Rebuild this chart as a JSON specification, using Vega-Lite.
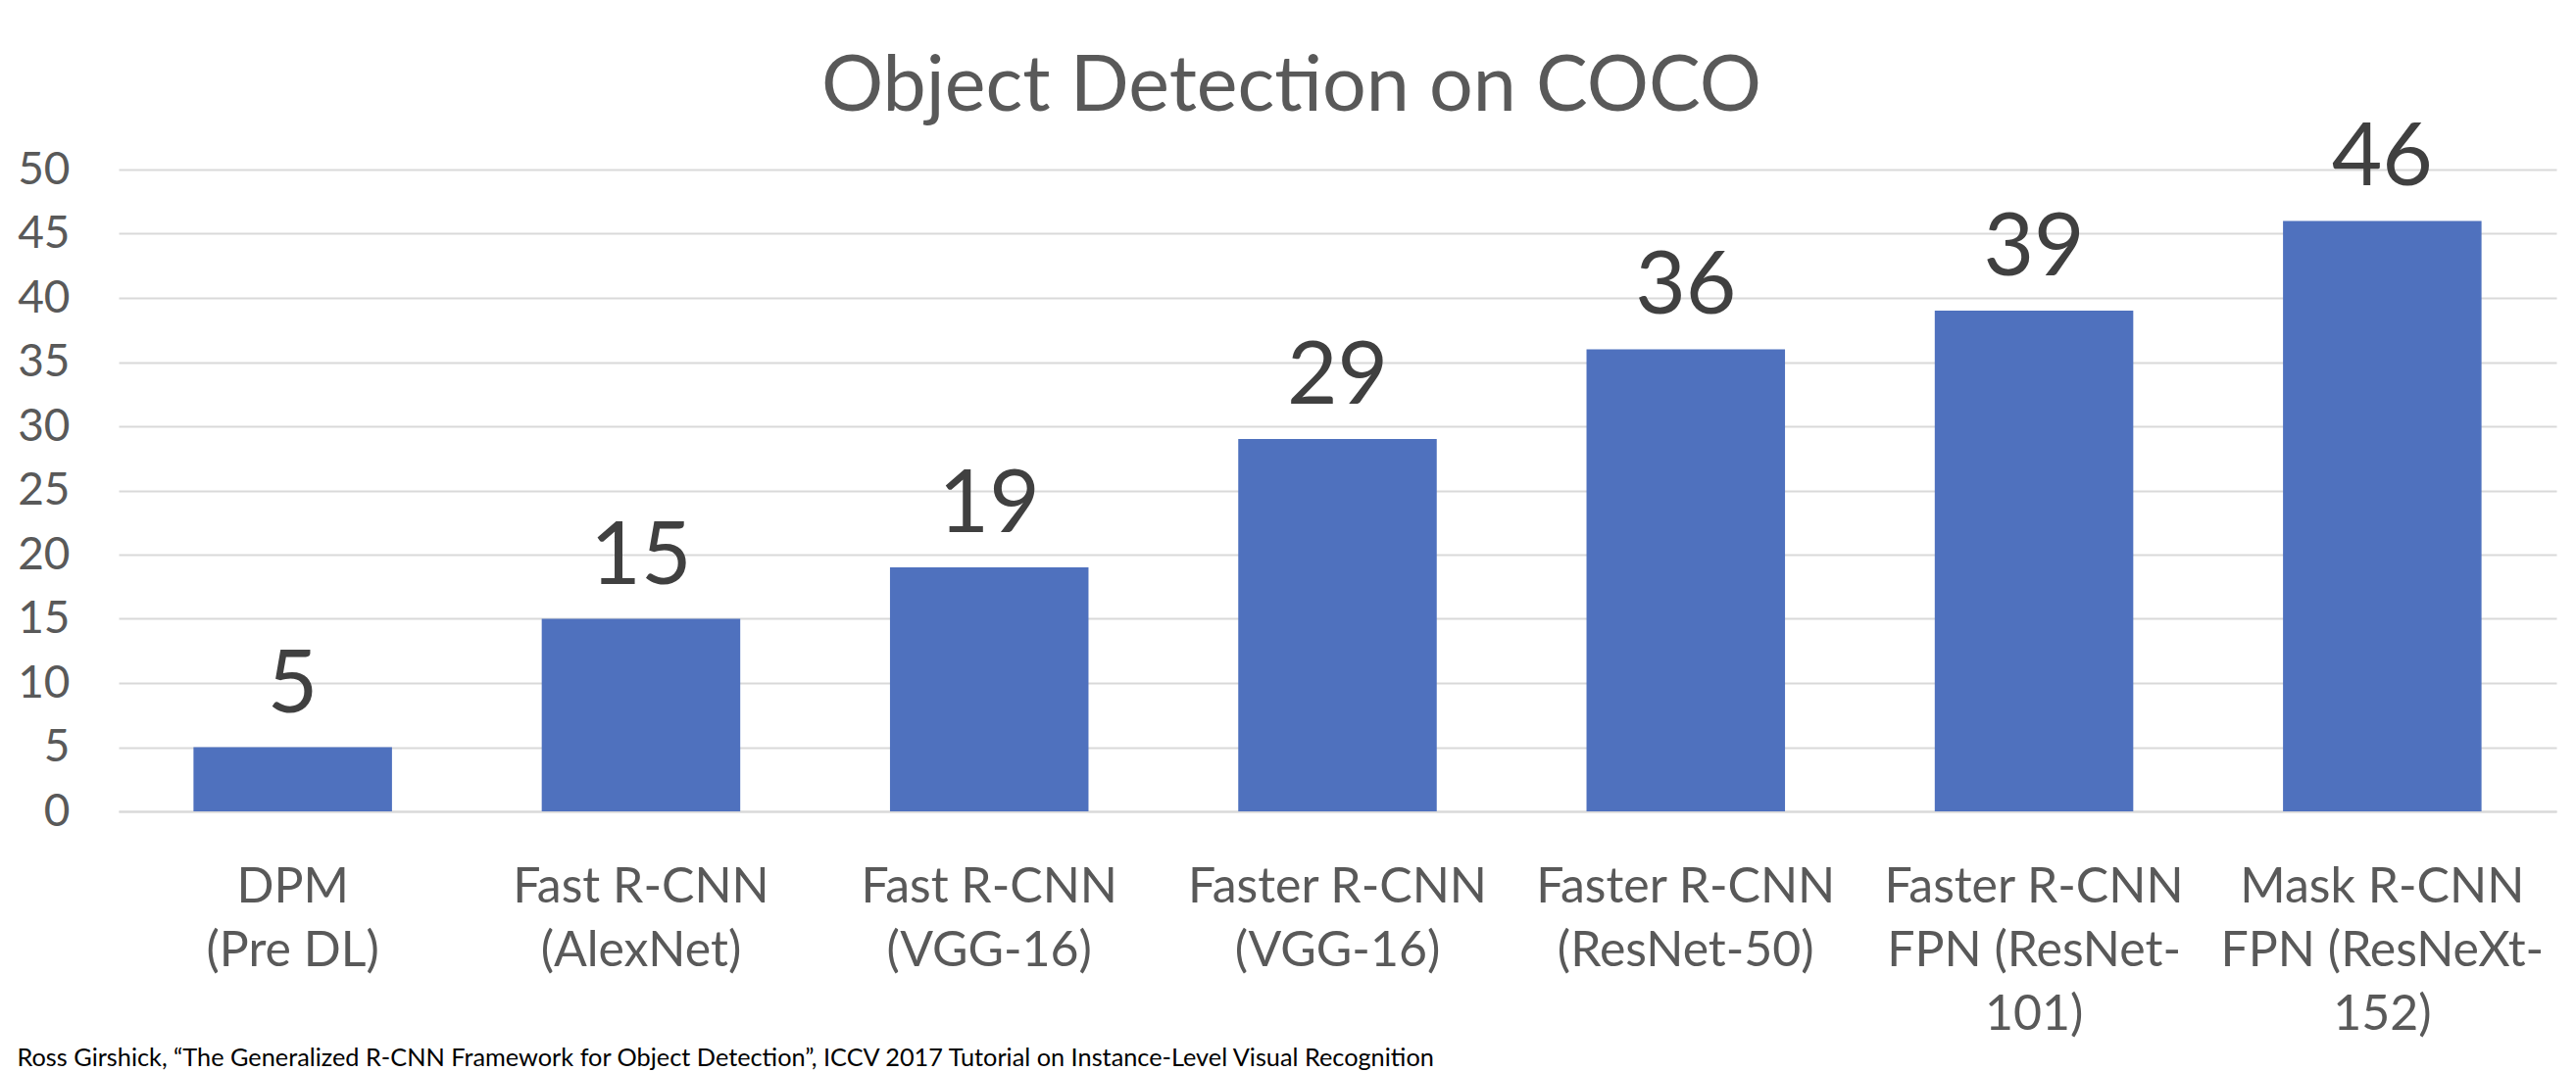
{
  "$schema": "https://vega.github.io/schema/vega-lite/v6.json",
  "autosize": {"type": "none"},
  "width": 2487,
  "height": 655,
  "padding": {"left": 121, "top": 173, "right": 20, "bottom": 266},
  "background": "white",
  "title": {
    "text": "Object Detection on COCO",
    "font": "Lato",
    "fontSize": 79,
    "fontWeight": "normal",
    "color": "#595959",
    "anchor": "middle",
    "frame": "group",
    "dx": -47,
    "offset": -12
  },
  "data": {
    "values": [
      {"method": "DPM\n(Pre DL)", "ap": 5},
      {"method": "Fast R-CNN\n(AlexNet)", "ap": 15},
      {"method": "Fast R-CNN\n(VGG-16)", "ap": 19},
      {"method": "Faster R-CNN\n(VGG-16)", "ap": 29},
      {"method": "Faster R-CNN\n(ResNet-50)", "ap": 36},
      {"method": "Faster R-CNN\nFPN (ResNet-\n101)", "ap": 39},
      {"method": "Mask R-CNN\nFPN (ResNeXt-\n152)", "ap": 46}
    ]
  },
  "encoding": {
    "x": {
      "field": "method",
      "type": "nominal",
      "sort": null,
      "scale": {"paddingInner": 0.43, "paddingOuter": 0.215},
      "axis": {
        "title": "Ross Girshick, “The Generalized R-CNN Framework for Object Detection”, ICCV 2017 Tutorial on Instance-Level Visual Recognition",
        "titleFont": "Lato",
        "titleFontSize": 25.3,
        "titleFontWeight": "normal",
        "titleColor": "#000000",
        "titleAnchor": "start",
        "titleAlign": "left",
        "titleBaseline": "alphabetic",
        "titleX": -104,
        "titleY": 259,
        "labelAngle": 0,
        "labelExpr": "split(datum.label, '\\n')",
        "labelFont": "Lato",
        "labelFontSize": 50,
        "labelLineHeight": 65,
        "labelColor": "#595959",
        "labelPadding": 52,
        "labelBaseline": "top",
        "ticks": false,
        "domainColor": "#D9D9D9",
        "domainWidth": 2,
        "labelLimit": 0
      }
    },
    "y": {
      "field": "ap",
      "type": "quantitative",
      "scale": {"domain": [0, 50]},
      "axis": {
        "title": null,
        "values": [0, 5, 10, 15, 20, 25, 30, 35, 40, 45, 50],
        "labelFont": "Lato",
        "labelFontSize": 46,
        "labelColor": "#595959",
        "labelPadding": 50,
        "ticks": false,
        "domain": false,
        "gridColor": "#D9D9D9",
        "gridWidth": 2
      }
    }
  },
  "layer": [
    {"mark": {"type": "bar", "color": "#4F71BE"}},
    {
      "mark": {
        "type": "text",
        "font": "Lato",
        "fontSize": 89,
        "color": "#404040",
        "baseline": "alphabetic",
        "dy": -36
      },
      "encoding": {"text": {"field": "ap", "type": "quantitative"}}
    }
  ],
  "config": {"view": {"stroke": null}}
}
